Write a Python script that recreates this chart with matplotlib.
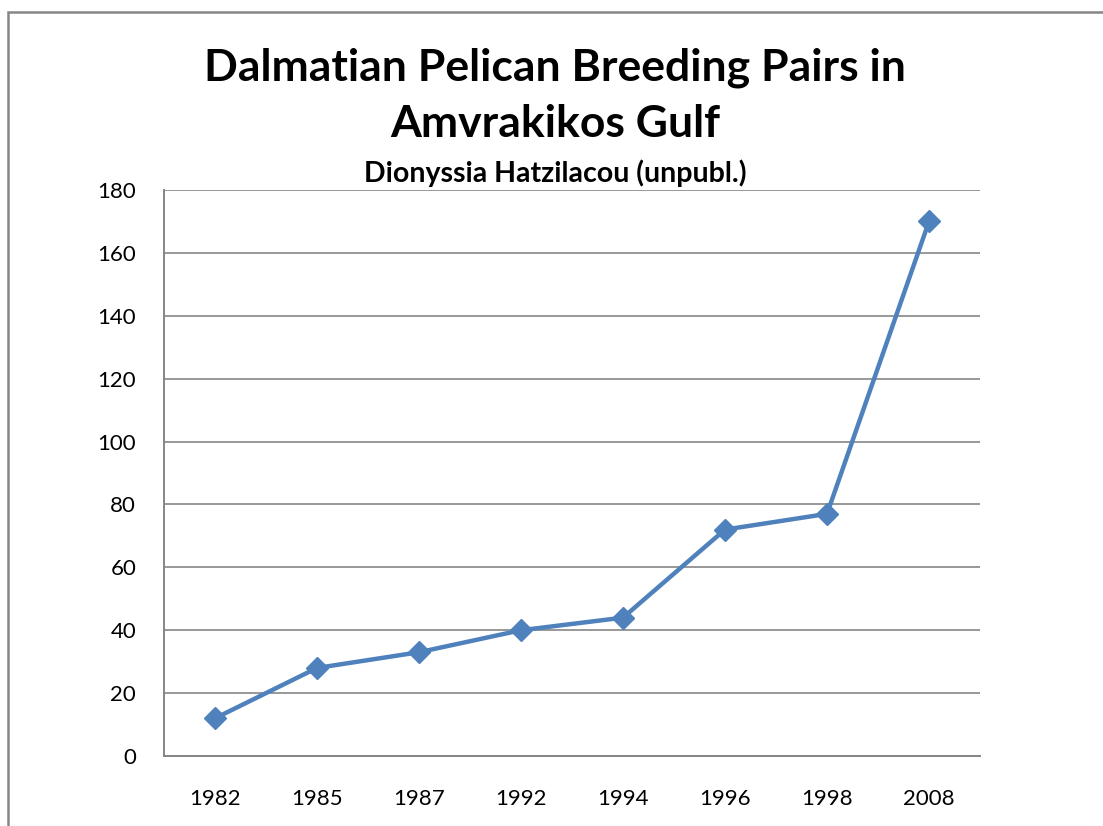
import matplotlib
matplotlib.use("Agg")
import matplotlib.pyplot as plt
from matplotlib.patches import Rectangle

years = ["1982", "1985", "1987", "1992", "1994", "1996", "1998", "2008"]
pairs = [12, 28, 33, 40, 44, 72, 77, 170]
yticks = [0, 20, 40, 60, 80, 100, 120, 140, 160, 180]

plt.rcParams['font.family'] = ['Lato', 'DejaVu Sans']

W, H = 1103, 826
fig = plt.figure(figsize=(W / 100, H / 100), dpi=100)

# outer chart frame (extends past bottom/right edges)
fig.patches.append(Rectangle((8 / W, -0.05), 1.2, (H - 12) / H + 0.05,
                             transform=fig.transFigure, fill=False,
                             edgecolor='#868686', linewidth=1.8))

left, right, top, bottom = 164, 980, 190, 756
ax = fig.add_axes([left / W, 1 - bottom / H, (right - left) / W, (bottom - top) / H])

x = list(range(len(years)))
ax.plot(x, pairs, color='#4F81BD', linewidth=3.2, marker='D', markersize=11,
        markerfacecolor='#4F81BD', markeredgecolor='#4F81BD', zorder=3)

ax.set_xlim(-0.5, len(years) - 0.5)
ax.set_ylim(0, 180)
ax.set_yticks(yticks)
ax.set_xticks(x)
ax.set_xticklabels(years)
ax.grid(axis='y', color='#868686', linewidth=1.2)
ax.set_axisbelow(True)
for s in ['top', 'right']:
    ax.spines[s].set_visible(False)
for s in ['left', 'bottom']:
    ax.spines[s].set_color('#868686')
    ax.spines[s].set_linewidth(1.4)
ax.tick_params(axis='both', length=0, labelsize=16, colors='black')
ax.tick_params(axis='y', pad=20)
ax.tick_params(axis='x', pad=24)

fig.text(555 / W, 1 - 68 / H, "Dalmatian Pelican Breeding Pairs in", ha='center', va='center',
         fontsize=32, fontweight='bold')
fig.text(555 / W, 1 - 124 / H, "Amvrakikos Gulf", ha='center', va='center',
         fontsize=32, fontweight='bold')
fig.text(555 / W, 1 - 173 / H, "Dionyssia Hatzilacou (unpubl.)", ha='center', va='center',
         fontsize=20.5, fontweight='bold')

fig.savefig("out.png", dpi=100)
